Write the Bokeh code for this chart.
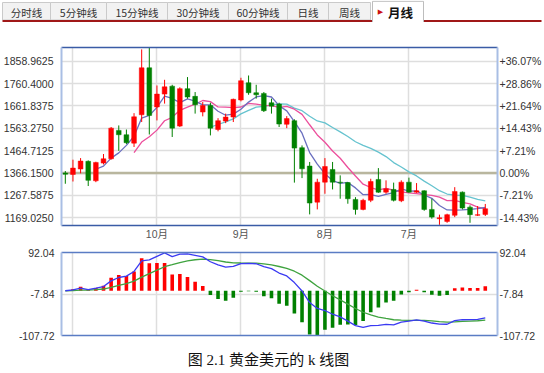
import numpy as np
import pandas as pd
from bokeh.plotting import figure
from bokeh.models import Range1d, FixedTicker, LinearAxis, Span
from bokeh.layouts import column, row
from bokeh.embed import file_html
from bokeh.resources import INLINE
from bokeh.core.properties import value

# ---------------- data ----------------
tab_names = ["分时线", "5分钟线", "15分钟线", "30分钟线", "60分钟线", "日线", "周线"]
active_tab = "月线"

opens = [1366, 1360, 1384, 1418, 1332, 1410, 1429, 1554, 1535, 1498,
         1623, 1830, 1657, 1714, 1749, 1573, 1738, 1704, 1635, 1664,
         1558, 1595, 1613, 1688, 1764, 1720, 1717, 1676, 1670, 1581,
         1597, 1478, 1397, 1238, 1326, 1382, 1326, 1324, 1250, 1206,
         1246, 1338, 1282, 1294, 1244, 1326, 1282, 1288, 1206, 1165,
         1153, 1180, 1282, 1216, 1180, 1184]
highs = [1375, 1425, 1432, 1422, 1416, 1450, 1569, 1576, 1558, 1630,
         1911, 1920, 1752, 1777, 1755, 1744, 1789, 1723, 1679, 1676,
         1608, 1628, 1694, 1786, 1796, 1755, 1723, 1694, 1676, 1617,
         1603, 1488, 1415, 1341, 1432, 1415, 1356, 1326, 1260, 1253,
         1341, 1388, 1334, 1324, 1334, 1346, 1322, 1290, 1253, 1183,
         1187, 1304, 1285, 1224, 1221, 1230]
lows = [1319, 1329, 1365, 1309, 1326, 1404, 1425, 1464, 1494, 1481,
        1591, 1536, 1598, 1672, 1525, 1569, 1694, 1628, 1616, 1532,
        1550, 1586, 1591, 1682, 1711, 1694, 1635, 1628, 1569, 1564,
        1324, 1344, 1184, 1206, 1275, 1294, 1253, 1231, 1183, 1202,
        1238, 1279, 1275, 1241, 1238, 1279, 1279, 1200, 1165, 1138,
        1147, 1172, 1206, 1147, 1177, 1177]
closes = [1361, 1388, 1419, 1334, 1413, 1429, 1564, 1535, 1500, 1614,
          1830, 1620, 1714, 1746, 1564, 1738, 1701, 1667, 1664, 1564,
          1597, 1613, 1691, 1773, 1720, 1711, 1641, 1661, 1582, 1606,
          1476, 1385, 1234, 1326, 1395, 1326, 1324, 1253, 1206, 1246,
          1329, 1282, 1297, 1246, 1326, 1282, 1288, 1206, 1172, 1169,
          1183, 1285, 1212, 1183, 1183, 1209]

base_price = 1366.15
price_ticks = [1169.025, 1267.5875, 1366.15, 1464.7125, 1563.275, 1661.8375, 1760.4, 1858.9625]
price_labels = ["1169.0250", "1267.5875", "1366.1500", "1464.7125",
                "1563.2750", "1661.8375", "1760.4000", "1858.9625"]
pct_labels = ["-14.43%", "-7.21%", "0.00%", "+7.21%", "+14.43%", "+21.64%", "+28.86%", "+36.07%"]
grid_ticks = [1, 12, 23, 34, 45]
month_ticks = [12, 23, 34, 45]
month_labels = ["10月", "9月", "8月", "7月"]
macd_ticks = [-107.72, -7.84, 92.04]
macd_labels = ["-107.72", "-7.84", "92.04"]
caption = "图 2.1 黄金美元的 k 线图"

# ---------------- derived indicators (from the read closes) ----------------
idx = np.arange(len(closes))
o = np.array(opens, float)
c = np.array(closes, float)
h = np.array(highs, float)
l = np.array(lows, float)
colors = np.where(c >= o, "#ff0000", "#008000").tolist()

cs = pd.Series(c)
ma5 = cs.rolling(5).mean().to_numpy()
ma10 = cs.rolling(10).mean().to_numpy()
ma20 = cs.rolling(20).mean().to_numpy()
dif = cs.ewm(span=12, adjust=False).mean() - cs.ewm(span=26, adjust=False).mean()
dea = dif.ewm(span=9, adjust=False).mean()
hist = (2 * (dif - dea)).to_numpy()
hist_colors = np.where(hist >= 0, "#ff0000", "#008000").tolist()

FONT = "Liberation Sans"
CJK = "Noto Sans CJK SC"
BLUE_DARK = "#3a5ca6"
BLUE_LIGHT = "#a9bee4"


def style_axis(ax, color="#333333", size="10.5px", font=FONT):
    ax.major_tick_line_color = None
    ax.minor_tick_line_color = None
    ax.major_tick_out = 0
    ax.major_tick_in = 0
    ax.minor_tick_out = 0
    ax.minor_tick_in = 0
    ax.major_label_text_font = font
    ax.major_label_text_font_size = size
    ax.major_label_text_color = color


def border_axis(ax, color):
    style_axis(ax)
    ax.ticker = FixedTicker(ticks=[])
    ax.major_label_text_font_size = "0px"
    ax.axis_line_color = color
    ax.axis_line_width = 1.5


# ---------------- header tabs ----------------
hdr = figure(width=544, height=22, x_range=Range1d(0, 544), y_range=Range1d(22, 0),
             toolbar_location=None, output_backend="svg", min_border=0,
             x_axis_location=None, y_axis_location=None)
hdr.outline_line_color = None
hdr.grid.visible = False
tab_left = [2, 50, 106, 167, 228, 287, 328]
tab_right = [50, 106, 167, 228, 287, 328, 370]
hdr.quad(left=tab_left, right=tab_right, top=2, bottom=19.5,
         fill_color="#f2f2f2", line_color="#cacaca", line_width=1)
hdr.quad(left=[2], right=[541], top=19.5, bottom=21.5, fill_color="#a01818", line_color=None)
hdr.quad(left=[372], right=[423], top=0.5, bottom=21.6, fill_color="white", line_color=None)
hdr.multi_line(xs=[[372, 372, 423, 423]], ys=[[21.5, 0.8, 0.8, 21.5]], line_color="#bdbdbd", line_width=1)
tab_cx = [(a + b) / 2 for a, b in zip(tab_left, tab_right)]
hdr.text(x=tab_cx, y=[11.5] * len(tab_cx), text=tab_names, text_font=value(CJK),
         text_font_size="10.5px", text_align="center", text_baseline="middle", text_color="#333333")
hdr.text(x=[380], y=[11.5], text=["▶"], text_font=value("DejaVu Sans"), text_font_size="7px",
         text_align="center", text_baseline="middle", text_color="#cc1111")
hdr.text(x=[400], y=[11.5], text=[active_tab], text_font=value(CJK), text_font_size="12.5px",
         text_font_style="bold", text_align="center", text_baseline="middle", text_color="#111111")

# ---------------- main candlestick chart ----------------
p = figure(width=544, height=220, x_range=Range1d(-0.5, 56.6), y_range=Range1d(1135.1, 1919.3),
           toolbar_location=None, output_backend="svg",
           min_border_left=60, min_border_right=46, min_border_top=25, min_border_bottom=17)
p.outline_line_color = None

yl = p.yaxis[0]
yl.ticker = FixedTicker(ticks=price_ticks)
yl.major_label_overrides = {t: s for t, s in zip(price_ticks, price_labels)}
style_axis(yl)
yl.major_label_standoff = 8
yl.axis_line_color = BLUE_LIGHT
yl.axis_line_width = 2

yr = LinearAxis(ticker=FixedTicker(ticks=price_ticks),
                major_label_overrides={t: s for t, s in zip(price_ticks, pct_labels)})
style_axis(yr)
yr.major_label_standoff = 2
yr.axis_line_color = BLUE_LIGHT
yr.axis_line_width = 2
p.add_layout(yr, "right")

xb = p.xaxis[0]
xb.ticker = FixedTicker(ticks=month_ticks)
xb.major_label_overrides = {t: s for t, s in zip(month_ticks, month_labels)}
style_axis(xb, color="#555555", size="10.5px", font=FONT + ", " + CJK)
xb.major_label_standoff = 2
xb.axis_line_color = BLUE_DARK
xb.axis_line_width = 1.5

xt = LinearAxis()
border_axis(xt, BLUE_DARK)
p.add_layout(xt, "above")

p.xgrid.ticker = FixedTicker(ticks=grid_ticks)
p.grid.grid_line_color = "#dedede"
p.grid.grid_line_width = 1.5

p.add_layout(Span(location=base_price, dimension="width", line_color="#b9b69e",
                  line_width=2.5, level="underlay"))

p.line(idx, ma20, line_color="#66c3cf", line_width=1.3)
p.line(idx, ma10, line_color="#ec4f9c", line_width=1.3)
p.line(idx, ma5, line_color="#6a6fbf", line_width=1.3)

p.segment(x0=idx, y0=l, x1=idx, y1=h, line_color=colors, line_width=1)
p.vbar(x=idx, width=0.62, top=np.maximum(o, c), bottom=np.minimum(o, c),
       fill_color=colors, line_color=colors, line_width=0.5)

# ---------------- MACD panel ----------------
m = figure(width=544, height=103, x_range=p.x_range, y_range=Range1d(-107.72, 92.04),
           toolbar_location=None, output_backend="svg",
           min_border_left=60, min_border_right=46, min_border_top=10, min_border_bottom=10)
m.outline_line_color = None

ml = m.yaxis[0]
ml.ticker = FixedTicker(ticks=macd_ticks)
ml.major_label_overrides = {t: s for t, s in zip(macd_ticks, macd_labels)}
style_axis(ml)
ml.major_label_standoff = 7
ml.axis_line_color = BLUE_LIGHT
ml.axis_line_width = 2

mr = LinearAxis(ticker=FixedTicker(ticks=macd_ticks),
                major_label_overrides={t: s for t, s in zip(macd_ticks, macd_labels)})
style_axis(mr)
mr.major_label_standoff = 2
mr.axis_line_color = BLUE_LIGHT
mr.axis_line_width = 2
m.add_layout(mr, "right")

border_axis(m.xaxis[0], "#5a7cc4")
mt = LinearAxis()
border_axis(mt, "#5a7cc4")
m.add_layout(mt, "above")

m.xgrid.ticker = FixedTicker(ticks=grid_ticks)
m.grid.grid_line_color = "#dedede"
m.grid.grid_line_width = 1.5

m.vbar(x=idx, width=0.47, top=hist, bottom=0, fill_color=hist_colors, line_color=None)
m.line(idx, dea.to_numpy(), line_color="#3fa33f", line_width=1.3)
m.line(idx, dif.to_numpy(), line_color="#3a3af2", line_width=1.3)

# ---------------- caption ----------------
cap = figure(width=544, height=28, x_range=Range1d(0, 544), y_range=Range1d(28, 0),
             toolbar_location=None, output_backend="svg", min_border=0,
             x_axis_location=None, y_axis_location=None)
cap.outline_line_color = None
cap.grid.visible = False
cap.text(x=[268], y=[14], text=[caption], text_font=value("Liberation Serif, " + CJK),
         text_font_size="15px", text_align="center", text_baseline="middle", text_color="#111111")

layout = column(row(hdr), column(p, m, spacing=0), row(cap), spacing=0)
open("out.html", "w").write(file_html(layout, INLINE))
